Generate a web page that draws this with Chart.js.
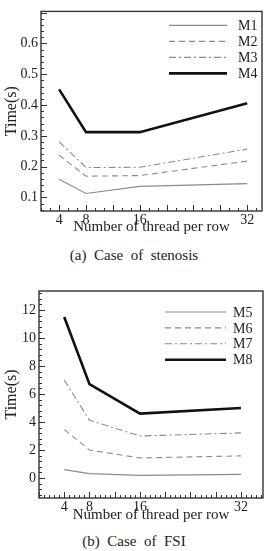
<!DOCTYPE html>
<html>
<head>
<meta charset="utf-8">
<script src="https://cdn.jsdelivr.net/npm/chart.js@4.4.1/dist/chart.umd.min.js"></script>
<style>
  html, body { margin:0; padding:0; background:#fff; }
  body { width:268px; height:551px; position:relative; overflow:hidden; font-family:'Liberation Serif', serif; color:#222; }
  .wrap { position:absolute; left:0; width:268px; }
  .cap { position:absolute; left:0; width:268px; text-align:center; font-size:15px; white-space:pre; line-height:18px; }
</style>
</head>
<body>
<div class="wrap" style="top:0;height:240px;"><canvas id="ca"></canvas></div>
<div class="cap" style="top:246px;">(a)  Case  of  stenosis</div>
<div class="wrap" style="top:270px;height:256px;"><canvas id="cb"></canvas></div>
<div class="cap" style="top:532px;">(b)  Case  of  FSI</div>
<script>
// ---- data ----
const threads = [4, 8, 16, 32];
const xTickLabels = ['4', '8', '16', '32'];

const seriesNamesA = ['M1', 'M2', 'M3', 'M4'];
const m1 = [0.159, 0.113, 0.136, 0.145];
const m2 = [0.237, 0.169, 0.171, 0.218];
const m3 = [0.281, 0.197, 0.198, 0.257];
const m4 = [0.451, 0.312, 0.312, 0.406];
const yTicksA = [0.1, 0.2, 0.3, 0.4, 0.5, 0.6];
const yTickLabelsA = ['0.1', '0.2', '0.3', '0.4', '0.5', '0.6'];

const seriesNamesB = ['M5', 'M6', 'M7', 'M8'];
const m5 = [0.60, 0.31, 0.19, 0.26];
const m6 = [3.46, 2.00, 1.43, 1.58];
const m7 = [7.00, 4.13, 3.00, 3.22];
const m8 = [11.5, 6.70, 4.60, 5.00];
const yTicksB = [0, 2, 4, 6, 8, 10, 12];
const yTickLabelsB = ['0', '2', '4', '6', '8', '10', '12'];

// ---- styles ----
const FONT = "'Liberation Serif', 'Times New Roman', serif";
const styles = [
  { color: '#8a8a8a', width: 1.1, dash: [] },
  { color: '#8a8a8a', width: 1.1, dash: [6, 4] },
  { color: '#8a8a8a', width: 1.1, dash: [7, 3, 2, 3] },
  { color: '#111111', width: 2.6, dash: [] }
];

function makeDatasets(names, arrs) {
  return names.map((n, i) => ({
    label: n,
    data: threads.map((t, j) => ({ x: t, y: arrs[i][j] })),
    borderColor: styles[i].color,
    borderWidth: styles[i].width,
    borderDash: styles[i].dash,
    pointRadius: 0,
    tension: 0,
    fill: false
  }));
}

// inward ticks + frame + legend
const framePlugin = {
  id: 'frame',
  afterDatasetsDraw(chart, args, opts) {
    const { ctx, chartArea: a, scales } = chart;
    const xs = scales.x, ys = scales.y;
    ctx.save();
    ctx.strokeStyle = '#333';
    ctx.lineWidth = 1;
    ctx.beginPath();
    const eps = 1e-6;
    for (let v = Math.ceil(ys.min / opts.yMinor) * opts.yMinor; v <= ys.max + eps; v += opts.yMinor) {
      const isMajor = Math.abs(v / opts.yMajor - Math.round(v / opts.yMajor)) < 1e-4;
      const y = Math.round(ys.getPixelForValue(v)) + 0.5;
      ctx.moveTo(a.left, y); ctx.lineTo(a.left + (isMajor ? 6 : 3), y);
    }
    for (let v = Math.ceil(xs.min / opts.xMinor) * opts.xMinor; v <= xs.max + eps; v += opts.xMinor) {
      const isMajor = Math.abs(v / opts.xMajor - Math.round(v / opts.xMajor)) < 1e-4;
      const x = Math.round(xs.getPixelForValue(v)) + 0.5;
      ctx.moveTo(x, a.bottom); ctx.lineTo(x, a.bottom - (isMajor ? 6 : 3));
    }
    ctx.stroke();
    ctx.lineWidth = 1.4;
    ctx.strokeStyle = '#333';
    ctx.strokeRect(a.left, a.top, a.right - a.left, a.bottom - a.top);
    ctx.font = '14px ' + FONT;
    ctx.textBaseline = 'middle';
    ctx.textAlign = 'left';
    chart.data.datasets.forEach((ds, i) => {
      const y = a.top + opts.legTop + i * opts.legStep;
      ctx.beginPath();
      ctx.strokeStyle = ds.borderColor;
      ctx.lineWidth = ds.borderWidth;
      ctx.setLineDash(ds.borderDash);
      ctx.moveTo(a.right - opts.legX1, y); ctx.lineTo(a.right - opts.legX2, y);
      ctx.stroke();
      ctx.setLineDash([]);
      ctx.fillStyle = '#222';
      ctx.fillText(ds.label, a.right - opts.legText, y + 1);
    });
    ctx.restore();
  }
};

function makeChart(id, names, arrs, yMin, yMax, yTicks, yLabels, xMin, xMax, cfg) {
  return new Chart(document.getElementById(id), {
    type: 'line',
    data: { datasets: makeDatasets(names, arrs) },
    plugins: [framePlugin],
    options: {
      responsive: true,
      maintainAspectRatio: false,
      animation: false,
      layout: { padding: cfg.padding },
      plugins: {
        legend: { display: false },
        tooltip: { enabled: false },
        frame: cfg.frame
      },
      scales: {
        x: {
          type: 'linear',
          min: xMin, max: xMax,
          afterBuildTicks: s => { s.ticks = threads.map(v => ({ value: v })); },
          afterFit: s => { s.height = cfg.xHeight; },
          grid: { display: false, drawTicks: false },
          border: { display: false },
          ticks: {
            callback: (v) => xTickLabels[threads.indexOf(v)],
            font: { family: FONT, size: 14 },
            color: '#222', padding: cfg.xTickPad, maxRotation: 0, autoSkip: false
          },
          title: {
            display: true, text: 'Number of thread per row',
            font: { family: FONT, size: 15, lineHeight: 1.2 },
            color: '#222', padding: { top: 0, bottom: cfg.xTitlePad }
          }
        },
        y: {
          min: yMin, max: yMax,
          afterBuildTicks: s => { s.ticks = yTicks.map(v => ({ value: v })); },
          afterFit: s => { s.width = cfg.yWidth; },
          grid: { display: false, drawTicks: false },
          border: { display: false },
          ticks: {
            callback: (v) => yLabels[yTicks.findIndex(t => Math.abs(t - v) < 1e-6)],
            font: { family: FONT, size: 14 },
            color: '#222', padding: 3, autoSkip: false
          },
          title: {
            display: true, text: 'Time(s)',
            font: { family: FONT, size: 16, lineHeight: 1.2 },
            color: '#222', padding: { top: 0, bottom: 0 }
          }
        }
      }
    }
  });
}

makeChart('ca', seriesNamesA, [m1, m2, m3, m4], 0.056, 0.704, yTicksA, yTickLabelsA, 1.3, 34.2, {
  padding: { left: 2, top: 5, right: 6, bottom: 1 },
  xHeight: 28, yWidth: 39, xTickPad: 1, xTitlePad: 3,
  frame: { yMinor: 0.02, yMajor: 0.1, xMinor: 4/3, xMajor: 4, legTop: 14, legStep: 16, legX1: 93, legX2: 35, legText: 24 }
});

makeChart('cb', seriesNamesB, [m5, m6, m7, m8], -1.43, 13.36, yTicksB, yTickLabelsB, 0, 35.5, {
  padding: { left: 2, top: 21, right: 5, bottom: 0 },
  xHeight: 28, yWidth: 37, xTickPad: 1, xTitlePad: 2,
  frame: { yMinor: 0.4, yMajor: 2, xMinor: 0.8, xMajor: 4, legTop: 21, legStep: 15.9, legX1: 98, legX2: 37, legText: 30 }
});
</script>
</body>
</html>
